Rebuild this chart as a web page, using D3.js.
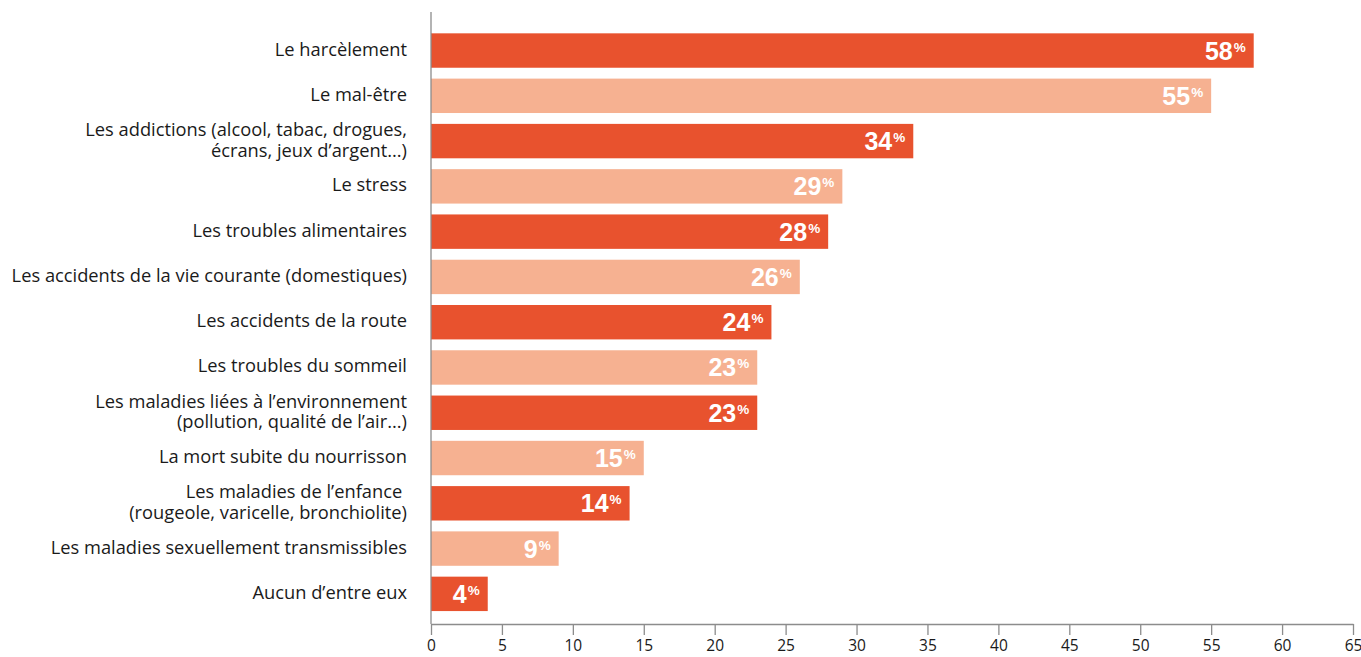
<!DOCTYPE html>
<html>
<head>
<meta charset="utf-8">
<script src="https://cdn.jsdelivr.net/npm/d3@7"></script>
<style>
  body { margin: 0; background: #fff; }
  svg { display: block; }
</style>
</head>
<body>
<svg id="chart" width="1361" height="657"></svg>
<script>
// Category labels (each entry may be split across lines)
const categories = [
  ["Le harcèlement"],
  ["Le mal-être"],
  ["Les addictions (alcool, tabac, drogues,", "écrans, jeux d’argent...)"],
  ["Le stress"],
  ["Les troubles alimentaires"],
  ["Les accidents de la vie courante (domestiques)"],
  ["Les accidents de la route"],
  ["Les troubles du sommeil"],
  ["Les maladies liées à l’environnement", "(pollution, qualité de l’air...)"],
  ["La mort subite du nourrisson"],
  ["Les maladies de l’enfance ", "(rougeole, varicelle, bronchiolite)"],
  ["Les maladies sexuellement transmissibles"],
  ["Aucun d’entre eux"]
];
const values = [58, 55, 34, 29, 28, 26, 24, 23, 23, 15, 14, 9, 4];
const xTicks = [0, 5, 10, 15, 20, 25, 30, 35, 40, 45, 50, 55, 60, 65];

const colorDark = "#e8522e";
const colorLight = "#f6b191";
const labelFont = "'Open Sans', 'Noto Sans', sans-serif";

const svg = d3.select("#chart");
const x = d3.scaleLinear().domain([0, 65]).range([431, 1353]);
const y = d3.scaleBand()
  .domain(d3.range(categories.length))
  .range([27.9, 616.5])
  .paddingInner(0.24)
  .paddingOuter(0.12);

// Bars
svg.append("g").selectAll("rect")
  .data(values)
  .join("rect")
  .attr("x", x(0))
  .attr("y", (d, i) => y(i))
  .attr("width", d => x(d) - x(0))
  .attr("height", y.bandwidth())
  .attr("fill", (d, i) => i % 2 === 0 ? colorDark : colorLight);

// Value labels inside bar ends
const vl = svg.append("g").selectAll("text")
  .data(values)
  .join("text")
  .attr("x", d => x(d) - 8)
  .attr("y", (d, i) => y(i) + y.bandwidth() / 2 + 9)
  .attr("text-anchor", "end")
  .attr("fill", "#fff")
  .attr("font-family", "'Liberation Sans', Arial, sans-serif")
  .attr("font-weight", "bold");
vl.append("tspan").attr("font-size", 25).text(d => d);
vl.append("tspan").attr("font-size", 13.5).attr("dx", 1).attr("dy", -8).text("%");

// Category labels
const cl = svg.append("g").selectAll("text")
  .data(categories)
  .join("text")
  .attr("text-anchor", "end")
  .attr("font-family", labelFont)
  .attr("font-size", 18.3)
  .attr("fill", "#1a1a1a")
  .attr("y", (d, i) => y(i) + y.bandwidth() / 2 + 5 - (d.length - 1) * 10);
cl.selectAll("tspan")
  .data(d => d)
  .join("tspan")
  .attr("x", 407)
  .attr("dy", (d, j) => j === 0 ? 0 : 20.6)
  .attr("xml:space", "preserve")
  .text(d => d);

// Vertical axis line
svg.append("line")
  .attr("x1", x(0)).attr("x2", x(0))
  .attr("y1", 12).attr("y2", 624)
  .attr("stroke", "#8c8c8c").attr("stroke-width", 1.3);

// Bottom axis
const xAxis = svg.append("g")
  .attr("transform", "translate(0,624)")
  .call(d3.axisBottom(x).tickValues(xTicks).tickSize(11).tickSizeOuter(0).tickPadding(7));
xAxis.select(".domain").attr("stroke", "#8c8c8c").attr("stroke-width", 1.3);
xAxis.selectAll(".tick line").attr("stroke", "#8c8c8c").attr("stroke-width", 1.3);
xAxis.selectAll(".tick text")
  .attr("font-family", labelFont)
  .attr("font-size", 15.5)
  .attr("fill", "#1a1a1a")
  .attr("dy", "0.6em");
</script>
</body>
</html>
